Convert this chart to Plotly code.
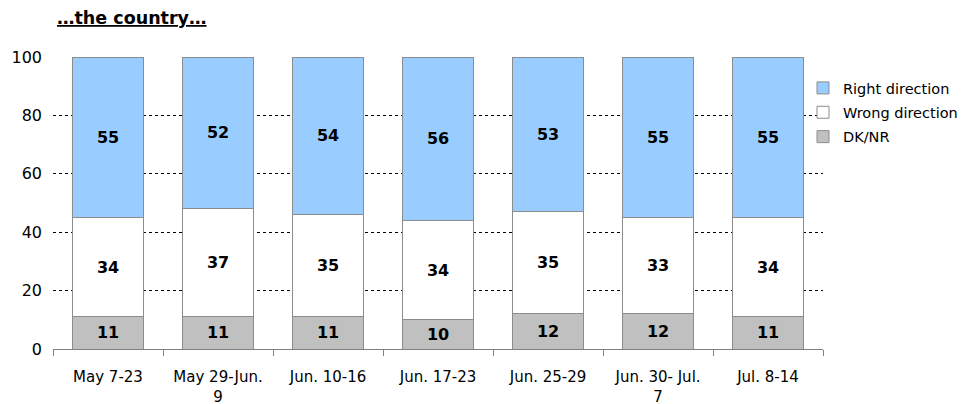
import plotly.graph_objects as go

categories = ["May 7-23", "May 29-Jun.<br>9", "Jun. 10-16", "Jun. 17-23", "Jun. 25-29", "Jun. 30- Jul.<br>7", "Jul. 8-14"]
dk_nr = [11, 11, 11, 10, 12, 12, 11]
wrong_direction = [34, 37, 35, 34, 35, 33, 34]
right_direction = [55, 52, 54, 56, 53, 55, 55]
y_ticks = [0, 20, 40, 60, 80, 100]

FONT = "DejaVu Sans"
# page body has an 8px margin; figure geometry compensates for it
W, H = 959, 396
L, R, T, B = 45, 144, 49, 55
PW, PH = W - L - R, H - T - B

fig = go.Figure()
for name, vals, color, rank in [("DK/NR", dk_nr, "#C0C0C0", 3),
                                ("Wrong direction", wrong_direction, "#FFFFFF", 2),
                                ("Right direction", right_direction, "#99CCFF", 1)]:
    fig.add_trace(go.Bar(
        x=categories, y=vals, name=name, legendgroup=name, legendrank=rank,
        marker=dict(color=color, line=dict(color="#8C8C8C", width=1)),
        text=[f"<b>{v}</b>" for v in vals], texttemplate="%{text}",
        textposition="inside", insidetextanchor="middle", textangle=0,
        textfont=dict(family=FONT, size=16, color="black"),
    ))

fig.update_layout(
    barmode="stack", bargap=0.36,
    width=W, height=H,
    margin=dict(l=L, r=R, t=T, b=B, autoexpand=False),
    plot_bgcolor="white", paper_bgcolor="white",
    font=dict(family=FONT, size=14, color="black"),
    uniformtext=dict(mode="show", minsize=16),
    legend=dict(traceorder="grouped", tracegroupgap=2.5,
                x=(795 - L) / PW, y=(H - B - 64) / PH,
                xanchor="left", yanchor="top", bgcolor="rgba(0,0,0,0)",
                font=dict(family=FONT, size=14.5), itemwidth=30),
    xaxis=dict(showline=True, linecolor="#808080", linewidth=1, ticks="outside",
               tickson="boundaries", ticklen=6, tickcolor="#808080",
               tickfont=dict(family=FONT, size=15), automargin=False,
               ticklabelstandoff=14),
    yaxis=dict(range=[0, 100], tickvals=y_ticks, showgrid=True, gridcolor="black",
               griddash="dot", gridwidth=1, zeroline=False, showline=False,
               tickfont=dict(family=FONT, size=16), ticks="", ticklabelstandoff=10,
               automargin=False),
    annotations=[dict(text="<b><u>…the country…</u></b>", xref="paper", yref="paper",
                      x=(47 - L) / PW, y=(H - B - 10) / PH, xanchor="left", yanchor="middle",
                      showarrow=False, font=dict(family=FONT, size=17.5))],
)
fig.write_html("out.html")
